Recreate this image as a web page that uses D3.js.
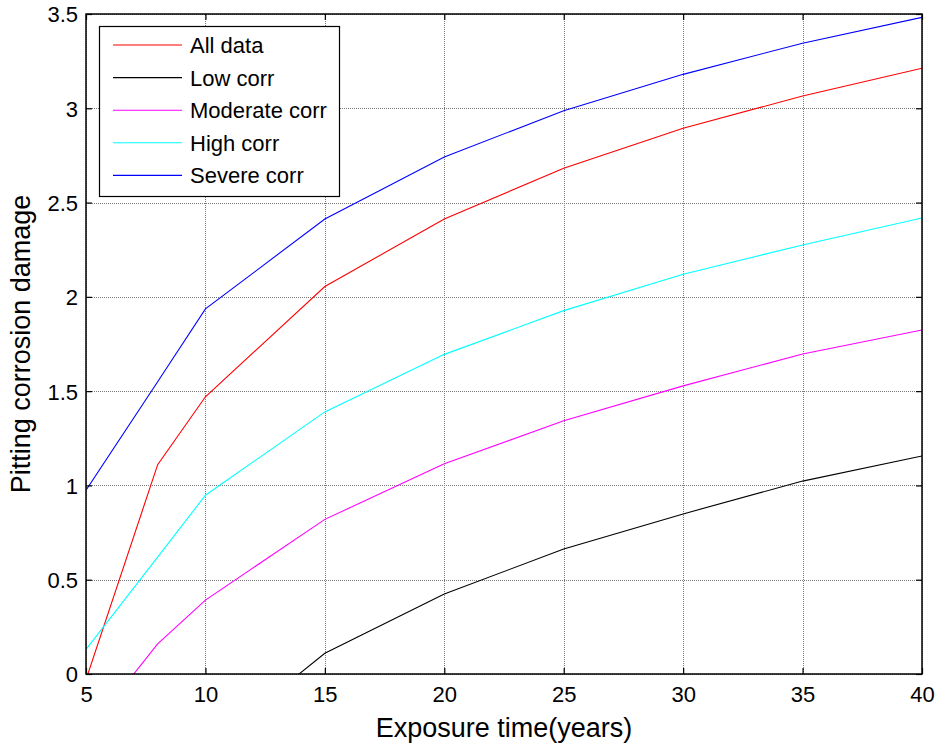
<!DOCTYPE html>
<html>
<head>
<meta charset="utf-8">
<script src="https://cdn.jsdelivr.net/npm/d3@7"></script>
<style>
  html, body { margin: 0; padding: 0; background: #fff; }
  svg { display: block; font-family: "Liberation Sans", Arial, sans-serif; }
</style>
</head>
<body>
<svg id="chart" width="939" height="746"></svg>
<script>
// Exposure times (years) at which damage was evaluated
const years = [5, 8, 10, 15, 20, 25, 30, 35, 40];

// Pitting corrosion damage for each corrosivity category (null = not evaluated)
const allData      = [-0.03, 1.11, 1.47, 2.055, 2.413, 2.682, 2.894, 3.065, 3.212];
const lowCorr      = [null, null, -0.40, 0.11, 0.424, 0.663, 0.849, 1.023, 1.156];
const moderateCorr = [-0.32, 0.16, 0.392, 0.82, 1.115, 1.343, 1.528, 1.697, 1.824];
const highCorr     = [0.13, 0.62, 0.948, 1.39, 1.695, 1.927, 2.12, 2.275, 2.418];
const severeCorr   = [0.975, 1.55, 1.936, 2.413, 2.742, 2.987, 3.18, 3.345, 3.482];

const seriesNames  = ["All data", "Low corr", "Moderate corr", "High corr", "Severe corr"];
const seriesColors = ["#ff0000", "#000000", "#ff00ff", "#00ffff", "#0000ff"];
const seriesValues = [allData, lowCorr, moderateCorr, highCorr, severeCorr];

const xTicks = [5, 10, 15, 20, 25, 30, 35, 40];
const yTicks = [0, 0.5, 1, 1.5, 2, 2.5, 3, 3.5];
const xTitle = "Exposure time(years)";
const yTitle = "Pitting corrosion damage";

const svg = d3.select("#chart");
const margin = { left: 86, right: 17, top: 14, bottom: 72 };
const W = 939, H = 746;
const x0 = margin.left, x1 = W - margin.right;
const y0 = H - margin.bottom, y1 = margin.top;

const x = d3.scaleLinear().domain([5, 40]).range([x0, x1]);
const y = d3.scaleLinear().domain([0, 3.5]).range([y0, y1]);

// clip region = axes box
svg.append("defs").append("clipPath").attr("id", "plotClip")
  .append("rect").attr("x", x0).attr("y", y1).attr("width", x1 - x0).attr("height", y0 - y1);

// dotted grid
const grid = svg.append("g").attr("stroke", "#7a7a7a").attr("stroke-width", 1)
  .attr("stroke-dasharray", "1,1").attr("shape-rendering", "crispEdges");
xTicks.forEach(t => {
  grid.append("line").attr("x1", Math.round(x(t)) + 0.5).attr("x2", Math.round(x(t)) + 0.5)
    .attr("y1", y0).attr("y2", y1);
});
yTicks.forEach(t => {
  grid.append("line").attr("y1", Math.round(y(t)) + 0.5).attr("y2", Math.round(y(t)) + 0.5)
    .attr("x1", x0).attr("x2", x1);
});

// series lines
const line = d3.line()
  .defined(d => d[1] !== null)
  .x(d => x(d[0]))
  .y(d => y(d[1]));

const lines = svg.append("g").attr("clip-path", "url(#plotClip)");
seriesValues.forEach((vals, i) => {
  const pts = years.map((yr, j) => [yr, vals[j]]);
  lines.append("path")
    .attr("d", line(pts))
    .attr("fill", "none")
    .attr("stroke", seriesColors[i])
    .attr("stroke-width", 1.1);
});

// axes (ticks inside on all four sides)
const tickLen = 6;
const fmt = d => String(d);
const axB = svg.append("g").attr("transform", `translate(0,${y0})`)
  .call(d3.axisBottom(x).tickValues(xTicks).tickSizeInner(-tickLen).tickSizeOuter(0).tickPadding(14).tickFormat(fmt));
const axT = svg.append("g").attr("transform", `translate(0,${y1})`)
  .call(d3.axisTop(x).tickValues(xTicks).tickSizeInner(-tickLen).tickSizeOuter(0).tickFormat(""));
const axL = svg.append("g").attr("transform", `translate(${x0},0)`)
  .call(d3.axisLeft(y).tickValues(yTicks).tickSizeInner(-tickLen).tickSizeOuter(0).tickPadding(14).tickFormat(fmt));
const axR = svg.append("g").attr("transform", `translate(${x1},0)`)
  .call(d3.axisRight(y).tickValues(yTicks).tickSizeInner(-tickLen).tickSizeOuter(0).tickFormat(""));

[axB, axT, axL, axR].forEach(a => {
  a.select(".domain").remove();
  a.selectAll(".tick line").attr("stroke", "#000").attr("stroke-width", 1.2);
  a.selectAll("text").attr("fill", "#000").attr("font-size", 22)
    .attr("font-family", "'Liberation Sans', Arial, sans-serif");
});
axB.selectAll("text").attr("dy", "0.71em").attr("y", 12);
axL.selectAll("text").attr("x", -8).attr("dy", "0.36em");

// axes box
svg.append("rect").attr("x", x0).attr("y", y1).attr("width", x1 - x0).attr("height", y0 - y1)
  .attr("fill", "none").attr("stroke", "#000").attr("stroke-width", 1.5);

// axis titles
svg.append("text").attr("x", (x0 + x1) / 2).attr("y", 737)
  .attr("text-anchor", "middle").attr("font-size", 27).attr("fill", "#000").text(xTitle);
svg.append("text").attr("transform", `translate(30,${(y0 + y1) / 2}) rotate(-90)`)
  .attr("text-anchor", "middle").attr("font-size", 27).attr("fill", "#000").text(yTitle);

// legend
const leg = svg.append("g");
leg.append("rect").attr("x", 99.5).attr("y", 26.5).attr("width", 240).attr("height", 170)
  .attr("fill", "#fff").attr("stroke", "#000").attr("stroke-width", 1.2);
seriesNames.forEach((name, i) => {
  const cy = 45 + i * 32.6;
  leg.append("line").attr("x1", 113).attr("x2", 182).attr("y1", cy).attr("y2", cy)
    .attr("stroke", seriesColors[i]).attr("stroke-width", 1.1);
  leg.append("text").attr("x", 190).attr("y", cy).attr("dy", "0.36em")
    .attr("font-size", 22).attr("fill", "#000").text(name);
});
</script>
</body>
</html>
